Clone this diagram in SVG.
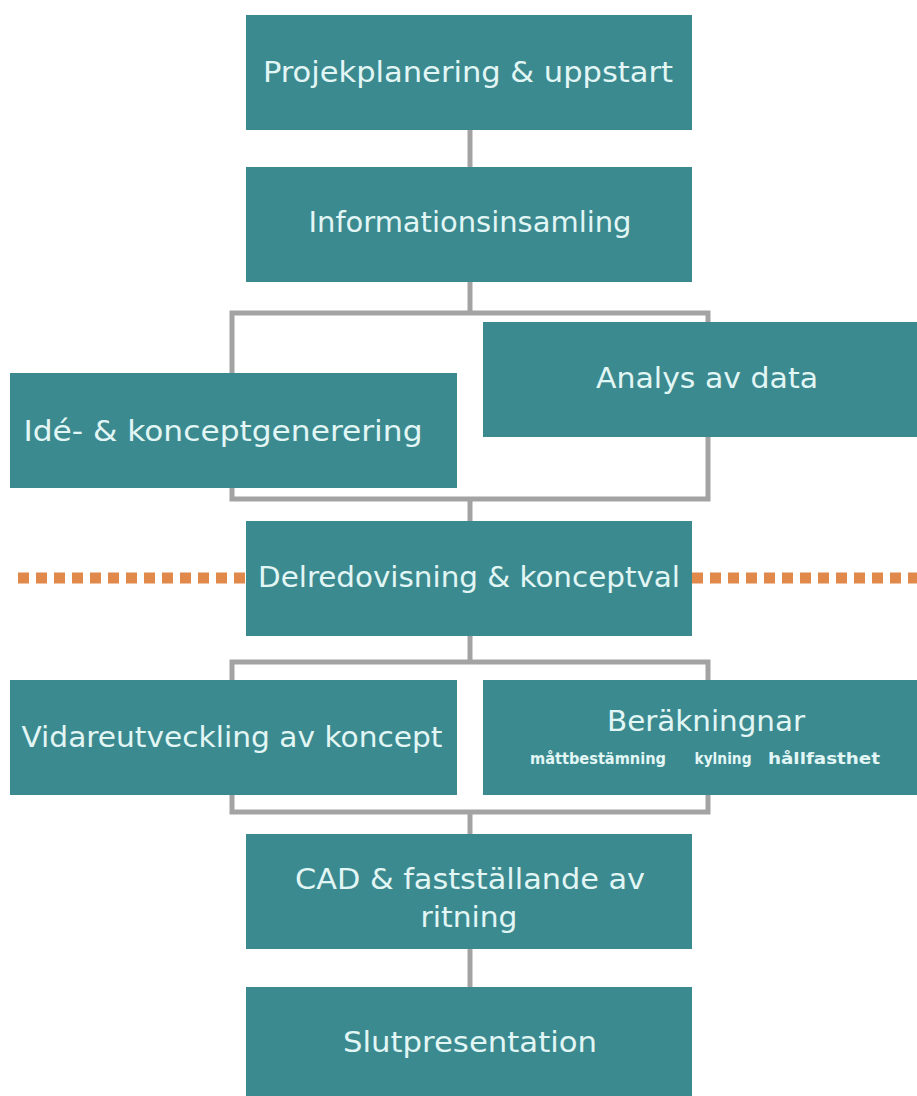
<svg xmlns="http://www.w3.org/2000/svg" width="917" height="1096" viewBox="0 0 917 1096">
<style>
.box{fill:#3b8a8f}
.t{fill:#e2f6f5;font-family:"DejaVu Sans Condensed","DejaVu Sans",sans-serif;font-stretch:condensed;font-size:29px;text-anchor:middle}
.s{fill:#e2f6f5;font-family:"DejaVu Sans Condensed","DejaVu Sans",sans-serif;font-stretch:condensed;font-size:15px;font-weight:bold;text-anchor:middle}
.c{fill:none;stroke:#a3a3a3;stroke-width:5}
.d{fill:none;stroke:#e0894a;stroke-width:11;stroke-dasharray:11 7}
</style>
<rect width="917" height="1096" fill="#ffffff"/>
<g id="divider">
<line class="d" x1="18" y1="578" x2="246" y2="578"/>
<line class="d" x1="692" y1="578" x2="917" y2="578"/>
</g>
<g id="connectors">
<line class="c" x1="470" y1="130" x2="470" y2="167"/>
<polyline class="c" points="470,282 470,313"/>
<polyline class="c" points="232,373 232,313 708,313 708,322"/>
<polyline class="c" points="232,488 232,499 708,499 708,437"/>
<line class="c" x1="470" y1="499" x2="470" y2="521"/>
<line class="c" x1="470" y1="636" x2="470" y2="662"/>
<polyline class="c" points="232,680 232,662 708,662 708,680"/>
<polyline class="c" points="232,795 232,812 708,812 708,795"/>
<line class="c" x1="470" y1="812" x2="470" y2="834"/>
<line class="c" x1="470" y1="949" x2="470" y2="987"/>
</g>
<g id="n1"><rect class="box" x="246" y="15" width="446" height="115"/><text class="t" x="468" y="82" textLength="410" lengthAdjust="spacingAndGlyphs">Projekplanering &amp; uppstart</text></g>
<g id="n2"><rect class="box" x="246" y="167" width="446" height="115"/><text class="t" x="470" y="232" textLength="323" lengthAdjust="spacingAndGlyphs">Informationsinsamling</text></g>
<g id="n3"><rect class="box" x="10" y="373" width="447" height="115"/><text class="t" x="223" y="441" textLength="399" lengthAdjust="spacingAndGlyphs">Idé- &amp; konceptgenerering</text></g>
<g id="n4"><rect class="box" x="483" y="322" width="434" height="115"/><text class="t" x="707" y="388" textLength="222" lengthAdjust="spacingAndGlyphs">Analys av data</text></g>
<g id="n5"><rect class="box" x="246" y="521" width="446" height="115"/><text class="t" x="469" y="587" textLength="422" lengthAdjust="spacingAndGlyphs">Delredovisning &amp; konceptval</text></g>
<g id="n6"><rect class="box" x="10" y="680" width="447" height="115"/><text class="t" x="232" y="747" textLength="421" lengthAdjust="spacingAndGlyphs">Vidareutveckling av koncept</text></g>
<g id="n7"><rect class="box" x="483" y="680" width="434" height="115"/><text class="t" x="706" y="731" textLength="198" lengthAdjust="spacingAndGlyphs">Beräkningnar</text>
<text class="s" x="598" y="764" textLength="136" lengthAdjust="spacingAndGlyphs">måttbestämning</text>
<text class="s" x="723" y="764" textLength="57" lengthAdjust="spacingAndGlyphs">kylning</text>
<text class="s" x="824" y="764" textLength="112" lengthAdjust="spacingAndGlyphs">hållfasthet</text></g>
<g id="n8"><rect class="box" x="246" y="834" width="446" height="115"/><text class="t" x="470" y="889" textLength="350" lengthAdjust="spacingAndGlyphs">CAD &amp; fastställande av</text><text class="t" x="469" y="927" textLength="97" lengthAdjust="spacingAndGlyphs">ritning</text></g>
<g id="n9"><rect class="box" x="246" y="987" width="446" height="115"/><text class="t" x="470" y="1052" textLength="254" lengthAdjust="spacingAndGlyphs">Slutpresentation</text></g>
</svg>
